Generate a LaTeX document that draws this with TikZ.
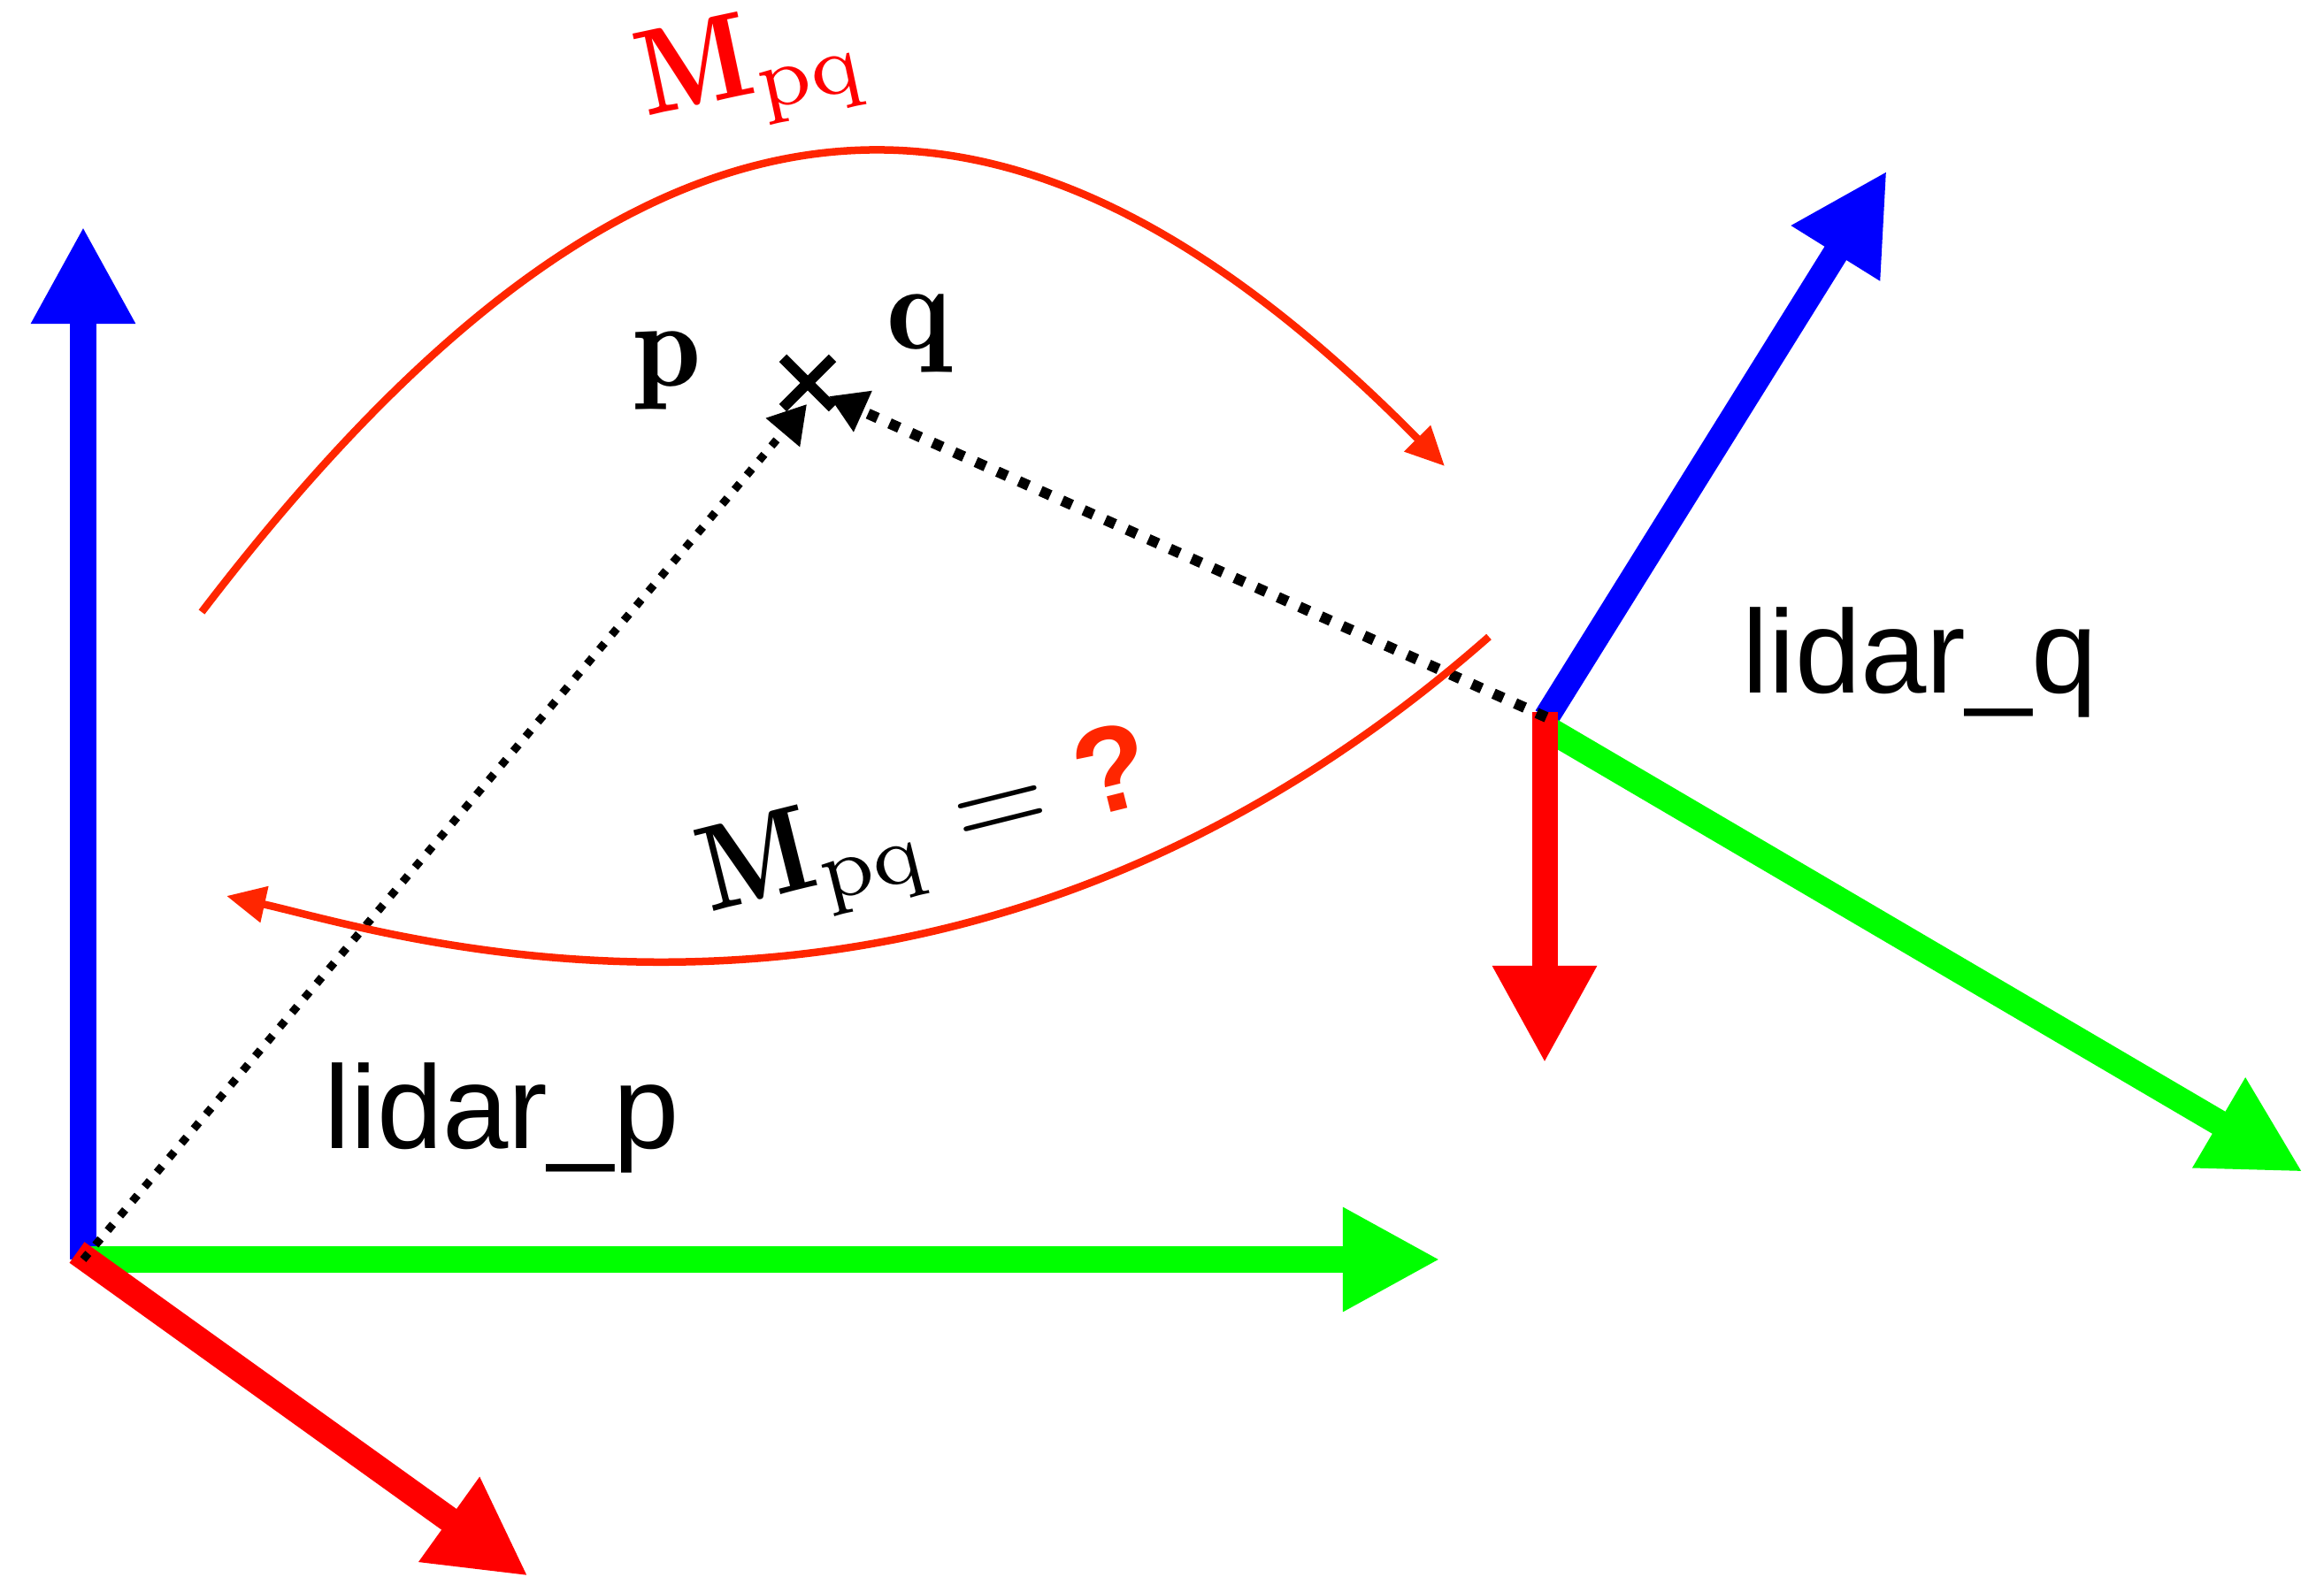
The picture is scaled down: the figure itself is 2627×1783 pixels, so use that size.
\documentclass[tikz,border=0pt]{standalone}
\usepackage{amsmath}
\usepackage{fontspec}
\newfontfamily\lidarfont{Liberation Sans}
\usetikzlibrary{arrows.meta,shapes.misc}
\definecolor{axisred}{RGB}{255,0,0}
\definecolor{axisgreen}{RGB}{0,255,0}
\definecolor{axisblue}{RGB}{0,0,255}
\definecolor{curvered}{RGB}{255,38,0}

\begin{document}
\begin{tikzpicture}[
            x=0.01cm, y=-0.01cm,
            axis/.style={line width=0.29cm, -{Triangle[length=1.1cm, width=1.1cm]}},
            motion/.style={curvered, line width=0.085cm, -{Triangle[length=0.44cm, width=0.4cm]}},
            ray/.style={black, -{Triangle[length=0.42cm, width=0.48cm]}},
            mathlabel/.style={inner sep=0pt, scale=3.9},
            lidarlabel/.style={inner sep=0pt, font=\lidarfont\fontsize{38}{40}\selectfont}
        ]
            \useasboundingbox (0,0) rectangle (2627,1783);

            % Frame of lidar_p
            \coordinate (op) at (94,1424);
            \coordinate (opred) at (87,1416);
            \coordinate (pz) at (94,256);
            \coordinate (px) at (1628,1424);
            \coordinate (py) at (597,1782);
            \draw[axis, axisblue] (op) -- (pz);
            \draw[axis, axisgreen] (op) -- (px);
            \draw[axis, axisred] (opred) -- (py);

            % Frame of lidar_q
            \coordinate (oq) at (1748,811);
            \coordinate (oqgreen) at (1746,822);
            \coordinate (oqred) at (1746,805);
            \coordinate (qz) at (2133,193);
            \coordinate (qx) at (2603,1325);
            \coordinate (qy) at (1746,1202);
            \draw[axis, axisblue] (oq) -- (qz);
            \draw[axis, axisgreen] (oqgreen) -- (qx);
            \draw[axis, axisred] (oqred) -- (qy);

            % Point seen from both lidars
            \node[cross out, draw, line width=0.12cm, minimum size=0.44cm, inner sep=0pt] (pt) at (913,433) {};
            \coordinate (ptip) at (912,457);
            \coordinate (qtip) at (937,448);
            \draw[ray, line width=0.09cm, dash pattern=on 0.09cm off 0.125cm] (op) -- (ptip);
            \draw[ray, line width=0.12cm, dash pattern=on 0.12cm off 0.147cm] (oq) -- (qtip);
            \node[mathlabel, anchor=base] (plabel) at (755,437) {$\mathbf{p}$};
            \node[mathlabel, anchor=base] (qlabel) at (1039,395) {$\mathbf{q}$};

            % Transform arrows
            \coordinate (topstart) at (228,692);
            \coordinate (topend) at (1633,527);
            \coordinate (lowstart) at (1683,720);
            \coordinate (lowend) at (256,1013);
            \draw[motion] (topstart) .. controls (737,26) and (1149,37) .. (topend);
            \draw[motion] (lowstart) .. controls (1067,1262) and (440,1054) .. (lowend);
            \node[mathlabel, text=axisred, rotate=12, anchor=base west] (mtop) at (728,132)
                {$\mathbf{M}_{\mathrm{pq}}$};
            \node[mathlabel, rotate=14, anchor=base west] (mlow) at (800,1032)
                {$\mathbf{M}_{\mathrm{pq}} = {}$\textcolor{curvered}{\lidarfont\bfseries ?}};

            \node[lidarlabel, anchor=base west] (lidarp) at (366,1298) {lidar\_p};
            \node[lidarlabel, anchor=base west] (lidarq) at (1969,784) {lidar\_q};
        \end{tikzpicture}
\end{document}
